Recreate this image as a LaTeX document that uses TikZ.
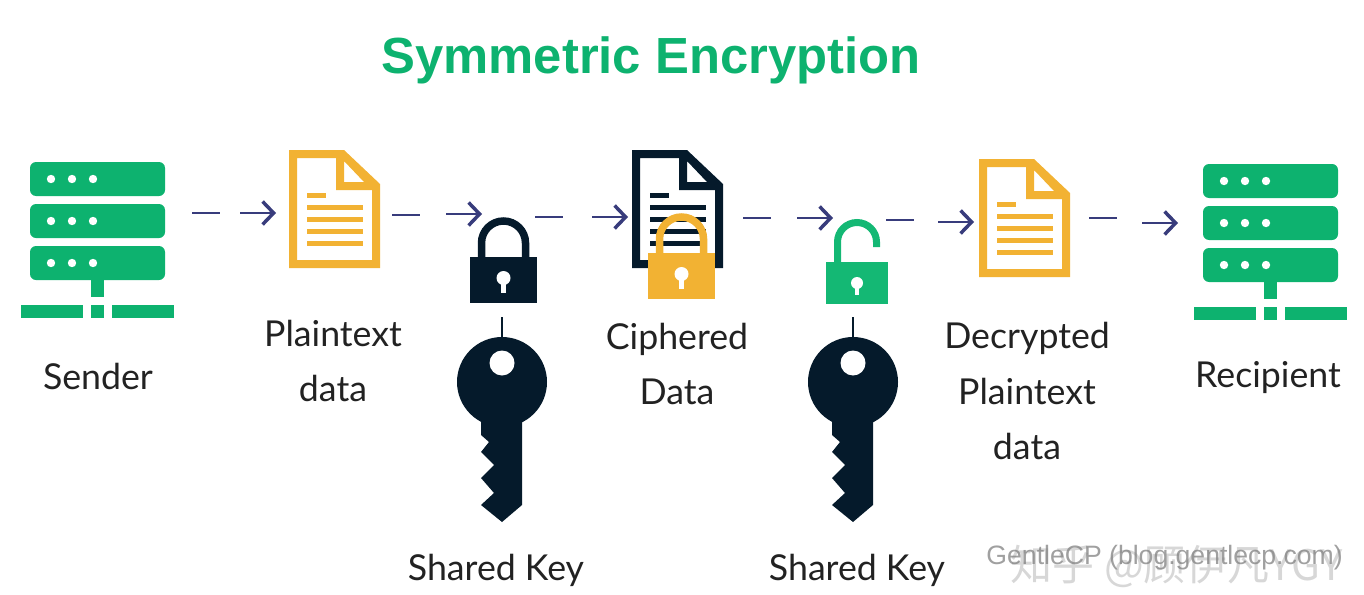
\documentclass[tikz,border=0pt]{standalone}
\usepackage{fontspec}
\setmainfont{Lato}
\newfontfamily\latinwm{Liberation Sans}
\newfontfamily\cjkwm{Noto Sans CJK SC}
\usetikzlibrary{arrows.meta}
\definecolor{brandgreen}{HTML}{0DB26F}
\definecolor{lockgreen}{HTML}{14B874}
\definecolor{docyellow}{HTML}{F2B233}
\definecolor{navy}{HTML}{051A2B}
\definecolor{flowblue}{HTML}{383C7C}
\definecolor{labelgray}{HTML}{222222}
\tikzset{
  x=1pt,y=-1pt,
  flow/.style={draw=flowblue,line width=1.7pt,
    -{Straight Barb[length=11pt,width=23pt,line width=3.5pt]}},
  tie/.style={draw=navy,line width=1.6pt},
  lab/.style={text=labelgray,align=center,inner sep=0pt,font=\fontsize{35.7}{55.5}\selectfont},
  pics/server/.style={code={
    \foreach \yy in {0,42,84}{
      \fill[brandgreen,rounded corners=6pt] (30,162+\yy) rectangle (165,196+\yy);
      \foreach \xx in {51,72,93}{\fill[white] (\xx,179+\yy) circle (4.2pt);}
    }
    \fill[brandgreen] (91,280) rectangle (104,297);
    \fill[brandgreen] (21,305) rectangle (83,318);
    \fill[brandgreen] (91,305) rectangle (104,318);
    \fill[brandgreen] (112,305) rectangle (174,318);
  }},
  pics/docicon/.style={code={
    \fill[#1,even odd rule] (0,0) -- (55,0) -- (91,34) -- (91,118) -- (0,118) -- cycle
      (8,8) -- (47,8) -- (47,40) -- (83,40) -- (83,110) -- (8,110) -- cycle
      (55,11) -- (55,32) -- (75,32) -- cycle;
    \fill[#1] (18,43) rectangle (37,48);
    \foreach \yy in {55,67,79,91}{\fill[#1] (18,\yy) rectangle (74,\yy+5);}
  }},
  pics/lockclosed/.style={code={
    \draw[#1,line width=7.5pt] (11.5,42) -- (11.5,26) arc[start angle=180,end angle=360,radius=22] -- (55.5,42);
    \fill[#1] (0,40) rectangle (67,86);
    \fill[white] (33.5,61) circle (7pt);
    \fill[white] (31,61) rectangle (36,76);
  }},
  pics/lockopen/.style={code={
    \draw[lockgreen,line width=7pt,line cap=butt] (11.5,46) -- (11.5,24) arc[start angle=180,end angle=360,radius=19.5] -- (50.5,29);
    \fill[lockgreen] (0,44) rectangle (62,86);
    \fill[white] (31,65) circle (6pt);
    \fill[white] (29,65) rectangle (33,77);
  }},
  pics/keyicon/.style={code={
    \fill[navy] (0,0) circle (45pt);
    \fill[navy] (-21,30) -- (20,30) -- (20,123) -- (0,140) -- (-21,123) -- (-8,111) -- (-21,96) -- (-8,83) -- (-21,70) -- (-13,60) -- (-21,53) -- cycle;
    \fill[white] (0,-19) circle (12.5pt);
  }},
}
\begin{document}
\begin{tikzpicture}
\useasboundingbox (0,0) rectangle (1364,594);
\node[text=brandgreen,inner sep=0pt,font=\latinwm\fontsize{50.8}{60}\selectfont\bfseries] (title) at (651,60) {Symmetric Encryption};

\pic at (0,0) {server};
\pic at (1173,2) {server};
\pic at (289,150) {docicon=docyellow};
\pic at (632,150) {docicon=navy};
\pic at (979,159) {docicon=docyellow};
\pic at (470,217) {lockclosed=navy};
\pic at (648,213) {lockclosed=docyellow};
\pic at (826,218) {lockopen};
\pic at (502,382) {keyicon};
\pic at (853,382) {keyicon};

\node[lab] (sender) at (98,376) {Sender};
\node[lab] (plain) at (333,361) {Plaintext\\data};
\node[lab] (ciph) at (677,364) {Ciphered\\Data};
\node[lab] (decr) at (1027,391) {Decrypted\\Plaintext\\data};
\node[lab] (recip) at (1268,378) {Recipient};
\node[lab] (keyA) at (496,570) {Shared Key};
\node[lab] (keyB) at (857,570) {Shared Key};

\coordinate (a1) at (192,213); \coordinate (b1) at (276,213);
\coordinate (a2) at (392,215); \coordinate (b2) at (482,214);
\coordinate (a3) at (535,217); \coordinate (b3) at (628,217);
\coordinate (a4) at (743,218); \coordinate (b4) at (833,218);
\coordinate (a5) at (886,220); \coordinate (b5) at (974,222);
\coordinate (a6) at (1089,218); \coordinate (b6) at (1178,223);
\foreach \i in {1,...,6}{\draw[flow] (a\i) -- ++(28,0) (b\i) ++(-36,0) -- (b\i);}

\coordinate (la) at (502,317); \coordinate (ka) at (502,337);
\coordinate (lb) at (853,317); \coordinate (kb) at (853,337);
\draw[tie] (la) -- (ka);
\draw[tie] (lb) -- (kb);

\node[anchor=east,inner sep=0pt,text=black!35,opacity=.45,font=\cjkwm\fontsize{42}{46}\selectfont] (wm1) at (1343,566) {知乎 @顾伊凡YGY};
\node[anchor=east,inner sep=0pt,text=black!50,opacity=.75,font=\latinwm\fontsize{26.6}{30}\selectfont] (wm2) at (1343,558) {GentleCP (blog.gentlecp.com)};
\end{tikzpicture}
\end{document}
